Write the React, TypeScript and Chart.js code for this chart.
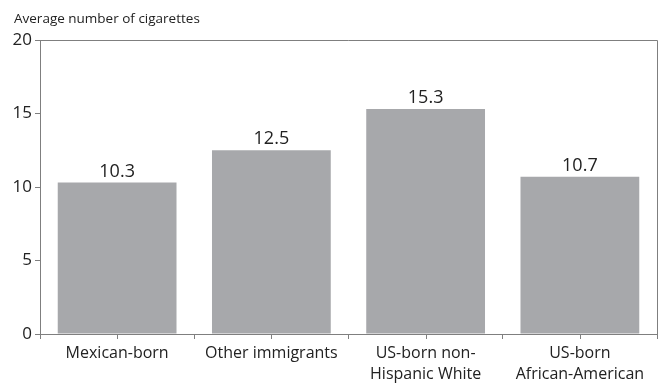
import React, { useEffect, useRef } from "react";
import { Chart, registerables } from "chart.js";

Chart.register(...registerables);

const categories: string[][] = [
  ["Mexican-born"],
  ["Other immigrants"],
  ["US-born non-", "Hispanic White"],
  ["US-born", "African-American"],
];
const values: number[] = [10.3, 12.5, 15.3, 10.7];
const yTicks: number[] = [0, 5, 10, 15, 20];
const yTitle = "Average number of cigarettes";

const FONT = "'Open Sans', 'Noto Sans', sans-serif";
const AXIS = "#7f7f7f";
const TEXT = "#222222";
const BAR = "#a7a8ab";

const decor = {
  id: "decor",
  afterDraw(chart: any) {
    const { ctx, chartArea } = chart;
    const xs = chart.scales.x;
    ctx.save();
    ctx.strokeStyle = AXIS;
    ctx.lineWidth = 1;
    ctx.beginPath();
    ctx.moveTo(chartArea.left, chartArea.top + 0.5);
    ctx.lineTo(chartArea.right + 0.5, chartArea.top + 0.5);
    ctx.lineTo(chartArea.right + 0.5, chartArea.bottom);
    ctx.stroke();
    ctx.beginPath();
    for (let i = 0; i < categories.length; i++) {
      const px = Math.round(xs.getPixelForValue(i)) + 0.5;
      ctx.moveTo(px, chartArea.bottom);
      ctx.lineTo(px, chartArea.bottom + 5);
    }
    ctx.stroke();
    ctx.fillStyle = TEXT;
    ctx.font = `18px ${FONT}`;
    ctx.textAlign = "center";
    ctx.textBaseline = "alphabetic";
    const meta = chart.getDatasetMeta(0);
    meta.data.forEach((bar: any, i: number) => {
      ctx.fillText(values[i].toFixed(1), bar.x, bar.y - 6);
    });
    ctx.textAlign = "left";
    ctx.font = `13.5px ${FONT}`;
    ctx.fillText(yTitle, 14, 23);
    ctx.restore();
  },
};

export default function App() {
  const ref = useRef<HTMLCanvasElement>(null);
  useEffect(() => {
    const chart = new Chart(ref.current!, {
      type: "bar",
      data: {
        labels: categories,
        datasets: [
          {
            data: values,
            backgroundColor: BAR,
            borderWidth: 0,
            categoryPercentage: 0.77,
            barPercentage: 1,
          },
        ],
      },
      options: {
        animation: false,
        responsive: false,
        devicePixelRatio: 1,
        layout: { padding: { top: 40, right: 6, left: 0, bottom: 0 } },
        plugins: { legend: { display: false }, tooltip: { enabled: false }, title: { display: false } },
        scales: {
          x: {
            offset: true,
            afterFit: (s: any) => { s.height = 49; },
            grid: { offset: true, drawOnChartArea: false, drawTicks: true, tickLength: 5, color: AXIS },
            border: { display: true, color: AXIS },
            ticks: { color: TEXT, font: { family: FONT, size: 16, lineHeight: 1.3 }, padding: 4, maxRotation: 0, autoSkip: false },
          },
          y: {
            min: 0,
            max: 20,
            afterFit: (s: any) => { s.width = 40; },
            afterBuildTicks: (s: any) => { s.ticks = yTicks.map((v) => ({ value: v })); },
            grid: { drawOnChartArea: false, drawTicks: true, tickLength: 5, color: AXIS },
            border: { display: true, color: AXIS },
            ticks: { color: TEXT, font: { family: FONT, size: 17 }, padding: 3 },
          },
        },
      },
      plugins: [decor],
    });
    return () => chart.destroy();
  }, []);
  return (
    <div style={{ position: "absolute", left: 0, top: 0, width: 663, height: 383 }}>
      <canvas ref={ref} width={663} height={383} style={{ width: 663, height: 383 }} />
    </div>
  );
}
